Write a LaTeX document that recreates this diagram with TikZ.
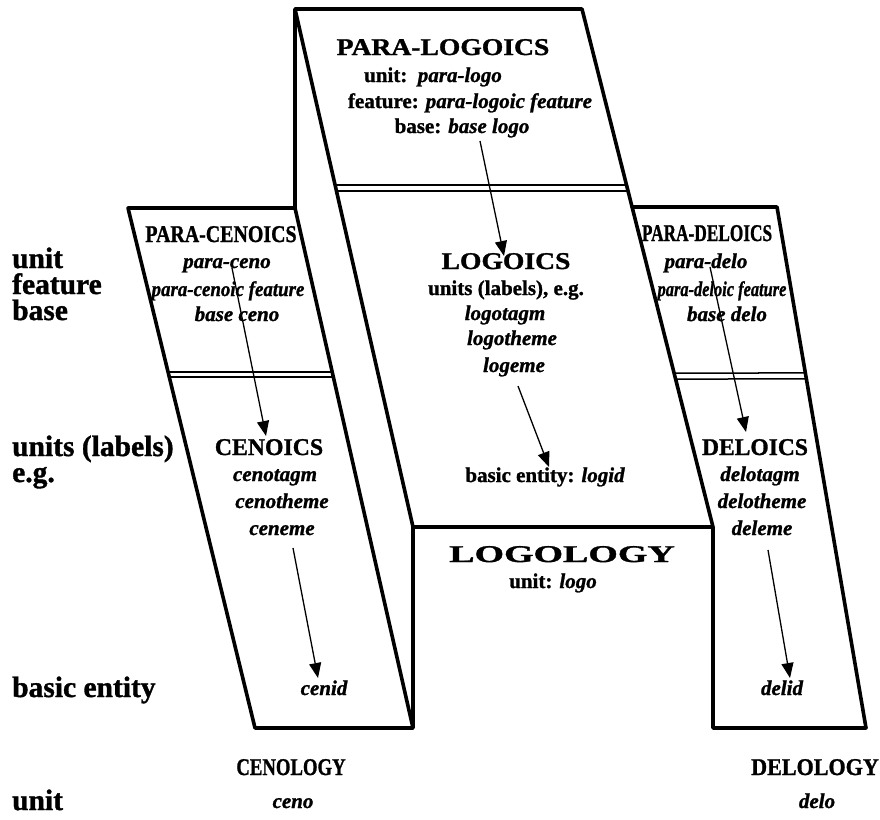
\documentclass[tikz,border=0pt]{standalone}
\usepackage{fontspec}
\setmainfont{Liberation Serif}[BoldFeatures={FakeBold=1.2},BoldItalicFeatures={FakeBold=1.2}]
\usepackage{graphicx}
\usetikzlibrary{arrows.meta,calc}
\newcommand{\hs}[2]{\scalebox{#1}[1]{#2}}
\begin{document}
\begin{tikzpicture}[x=1pt,y=-1pt,
  edge/.style={line width=3.6pt, line cap=round, line join=round},
  sepl/.style={line width=1.5pt},
  arr/.style={line width=1.3pt, -{Triangle[length=15pt,width=12pt]}},
  tx/.style={inner sep=0pt, anchor=base, font=\fontsize{21}{25}\selectfont\bfseries},
  hd/.style={inner sep=0pt, anchor=base, font=\fontsize{24}{26}\selectfont\bfseries},
  side/.style={inner sep=0pt, anchor=base west, align=left, font=\fontsize{29.5}{26}\selectfont\bfseries}]
\useasboundingbox (0,0) rectangle (880,819);
% corners
\coordinate (cTL) at (295,9);
\coordinate (cTR) at (582,9);
\coordinate (cBR) at (713,527);
\coordinate (cBL) at (413,527);
\coordinate (cV) at (295,208);
\coordinate (lTL) at (128,208);
\coordinate (lBL) at (255,728);
\coordinate (lBR) at (413,728);
\coordinate (rTL) at (632,207);
\coordinate (rTR) at (777,207);
\coordinate (rBR) at (866,728);
\coordinate (rBL) at (713,728);
% outlines
\draw[edge] (cV) -- (cTL) -- (cTR) -- (cBR) -- (cBL) -- (cTL);
\draw[edge] (cBL) -- (lBR) -- (lBL) -- (lTL) -- (cV) -- (lBR);
\draw[edge] (rTL) -- (rTR) -- (rBR) -- (rBL) -- (cBR);
% double separators
\draw[sepl] ($(cTL)!0.3398!(cBL)$) -- ($(cTR)!0.3398!(cBR)$);
\draw[sepl] ($(cTL)!0.3514!(cBL)$) -- ($(cTR)!0.3514!(cBR)$);
\draw[sepl] ($(lTL)!0.3154!(lBL)$) -- ($(cV)!0.3154!(lBR)$);
\draw[sepl] ($(lTL)!0.3250!(lBL)$) -- ($(cV)!0.3250!(lBR)$);
\draw[sepl] ($(cTR)!0.7027!(cBR)$) -- ($(rTR)!0.3186!(rBR)$);
\draw[sepl] ($(cTR)!0.7143!(cBR)$) -- ($(rTR)!0.3301!(rBR)$);
% center top
\node[hd] (plh) at (443,55) {\hs{1.15}{PARA-LOGOICS}};
\node[tx] (plu) at (433,82) {unit:\ \ {\itshape para-logo}};
\node[tx] (plf) at (470,108) {feature: {\itshape para-logoic feature}};
\node[tx] (plb) at (462,133) {base: {\itshape base logo}};
% left top
\node[hd] (pch) at (221,242) {\hs{0.83}{PARA-CENOICS}};
\node[tx] (pcu) at (227,268) {\itshape para-ceno};
\node[tx] (pcf) at (228,296) {\itshape\hs{0.9}{para-cenoic feature}};
\node[tx] (pcb) at (237,321) {\itshape base ceno};
% right top
\node[hd] (pdh) at (707,241) {\hs{0.72}{PARA-DELOICS}};
\node[tx] (pdu) at (706,268) {\itshape para-delo};
\node[tx] (pdf) at (722,296) {\itshape\hs{0.78}{para-deloic feature}};
\node[tx] (pdb) at (727,321) {\itshape base delo};
% center lower
\node[hd] (lgh) at (506,269) {\hs{1.15}{LOGOICS}};
\node[tx] (lgu) at (506,295) {units (labels), e.g.};
\node[tx] (lg1) at (505,320) {\itshape logotagm};
\node[tx] (lg2) at (512,345) {\itshape logotheme};
\node[tx] (lg3) at (514,372) {\itshape logeme};
\node[tx] (lge) at (545,482) {basic entity: {\itshape logid}};
\node[hd] (lo) at (562,562) {\hs{1.58}{LOGOLOGY}};
\node[tx] (lou) at (553,588) {unit: {\itshape logo}};
% left lower
\node[hd] (ch) at (269,455) {\hs{0.99}{CENOICS}};
\node[tx] (c1) at (275,481) {\itshape cenotagm};
\node[tx] (c2) at (282,508) {\itshape cenotheme};
\node[tx] (c3) at (282,535) {\itshape ceneme};
\node[tx] (ce) at (324,695) {\itshape cenid};
% right lower
\node[hd] (dh) at (755,455) {\hs{0.98}{DELOICS}};
\node[tx] (d1) at (760,481) {\itshape delotagm};
\node[tx] (d2) at (762,508) {\itshape delotheme};
\node[tx] (d3) at (762,535) {\itshape deleme};
\node[tx] (de) at (782,695) {\itshape delid};
% bottom
\node[hd] (cl) at (291,775) {\hs{0.78}{CENOLOGY}};
\node[tx] (clu) at (293,808) {\itshape ceno};
\node[hd] (dl) at (815,775) {\hs{0.92}{DELOLOGY}};
\node[tx] (dlu) at (817,808) {\itshape delo};
% side labels
\node[side] (s1) at (12,320) {unit\\feature\\base};
\node[side] (s4) at (12,482) {units (labels)\\e.g.};
\node[side] (s6) at (12,697) {basic entity};
\node[side] (s7) at (12,810) {unit};
% arrows
\coordinate (a1s) at (480,141); \coordinate (a1e) at (504,256);
\coordinate (a2s) at (518,386); \coordinate (a2e) at (549,467);
\coordinate (b1s) at (232,268); \coordinate (b1e) at (266,436);
\coordinate (b2s) at (293,548); \coordinate (b2e) at (318,678);
\coordinate (d1s) at (710,267); \coordinate (d1e) at (746,432);
\coordinate (d2s) at (768,550); \coordinate (d2e) at (790,678);
\draw[arr] (a1s) -- (a1e);
\draw[arr] (a2s) -- (a2e);
\draw[arr] (b1s) -- (b1e);
\draw[arr] (b2s) -- (b2e);
\draw[arr] (d1s) -- (d1e);
\draw[arr] (d2s) -- (d2e);
\end{tikzpicture}
\end{document}
